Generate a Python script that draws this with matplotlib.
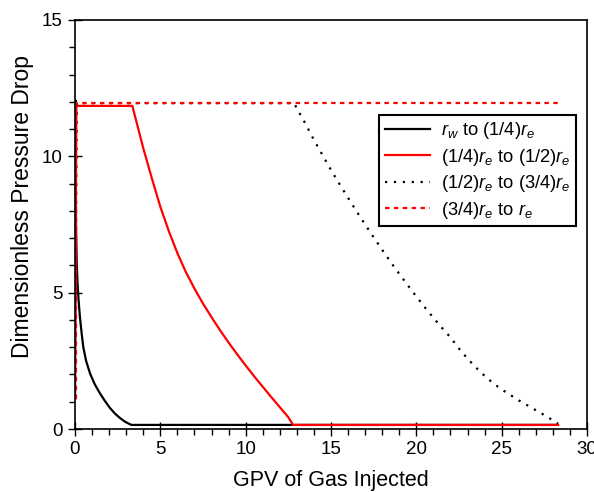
import matplotlib
matplotlib.use("Agg")
import matplotlib.pyplot as plt
from matplotlib.ticker import MultipleLocator

plt.rcParams["font.family"] = ["Liberation Sans", "DejaVu Sans"]
plt.rcParams["mathtext.fontset"] = "custom"
plt.rcParams["mathtext.rm"] = "Liberation Sans"
plt.rcParams["mathtext.it"] = "Liberation Sans:italic"

# r_w to (1/4) r_e
seg1_x = [0, 0.03, 0.06, 0.1, 0.15, 0.2, 0.29, 0.4, 0.49, 0.65, 0.88, 1.15,
          1.46, 1.75, 2.05, 2.35, 2.64, 2.95, 3.3, 28.3]
seg1_p = [1.1, 12.05, 7.5, 6.1, 5.35, 4.8, 4.09, 3.45, 2.99, 2.5, 2.04, 1.65,
          1.31, 1.03, 0.77, 0.56, 0.40, 0.26, 0.15, 0.15]

# (1/4) r_e to (1/2) r_e
seg2_x = [0, 0.08, 3.36, 4.0, 4.5, 5.0, 5.5, 6.0, 6.5, 7.0, 7.5, 8.0, 8.5,
          9.0, 9.5, 10.0, 10.5, 11.0, 11.5, 12.0, 12.5, 12.78, 28.3]
seg2_p = [1.1, 11.85, 11.85, 10.3, 9.2, 8.15, 7.25, 6.45, 5.75, 5.15, 4.6,
          4.1, 3.62, 3.17, 2.74, 2.33, 1.93, 1.55, 1.17, 0.8, 0.43, 0.15, 0.15]

# (1/2) r_e to (3/4) r_e
seg3_x = [0, 0.1, 12.83, 13.5, 14.0, 14.5, 15.0, 15.5, 16.0, 16.5, 17.0,
          17.5, 18.0, 18.5, 19.0, 19.5, 20.0, 20.5, 21.0, 21.5, 22.0, 22.5,
          23.0, 23.5, 24.0, 24.5, 25.0, 25.5, 26.0, 26.5, 27.0, 27.5, 28.0,
          28.3]
seg3_p = [1.1, 11.95, 11.95, 11.2, 10.6, 10.05, 9.5, 8.98, 8.48, 7.98, 7.5,
          7.03, 6.57, 6.12, 5.69, 5.27, 4.86, 4.46, 4.08, 3.71, 3.36, 2.95,
          2.58, 2.25, 1.95, 1.68, 1.45, 1.25, 1.05, 0.87, 0.69, 0.51, 0.32,
          0.2]

# (3/4) r_e to r_e
seg4_x = [0.08, 0.08, 28.3]
seg4_p = [1.1, 11.95, 11.95]

labels = [
    r"$r_w$ to (1/4)$r_e$",
    r"(1/4)$r_e$ to (1/2)$r_e$",
    r"(1/2)$r_e$ to (3/4)$r_e$",
    r"(3/4)$r_e$ to $r_e$",
]

fig = plt.figure(figsize=(5.94, 4.92), dpi=100)
ax = fig.add_axes([75 / 594, 1 - 429 / 492, 512 / 594, 409 / 492])

ax.plot(seg1_x, seg1_p, color="black", lw=1.6, label=labels[0])
ax.plot(seg2_x, seg2_p, color="red", lw=1.6, label=labels[1])
ax.plot(seg3_x, seg3_p, color="black", lw=1.6, ls=(0, (1, 3)), label=labels[2])
ax.plot(seg4_x, seg4_p, color="red", lw=1.6, ls=(0, (2, 2)), label=labels[3])

ax.set_xlim(0, 30)
ax.set_ylim(0, 15)
ax.xaxis.set_major_locator(MultipleLocator(5))
ax.xaxis.set_minor_locator(MultipleLocator(1))
ax.yaxis.set_major_locator(MultipleLocator(5))
ax.yaxis.set_minor_locator(MultipleLocator(1))
ax.tick_params(which="major", direction="inout", length=10, width=1,
               labelsize=13.5, top=False, right=False, pad=4)
ax.tick_params(which="minor", direction="out", length=4, width=1,
               top=False, right=False)
for s in ax.spines.values():
    s.set_linewidth(1.2)

ax.set_xlabel("GPV of Gas Injected", fontsize=15.5, labelpad=8)
ax.set_ylabel("Dimensionless Pressure Drop", fontsize=16.5)
ax.yaxis.set_label_coords(-0.08, 0.545)

leg = ax.legend(loc="upper left", bbox_to_anchor=(0.594, 0.768),
                borderaxespad=0, fontsize=13.2, frameon=True, fancybox=False,
                framealpha=1, edgecolor="black", handlelength=2.5,
                labelspacing=0.3, handletextpad=0.55, borderpad=0.3)
leg.get_frame().set_linewidth(1.5)

fig.savefig("out.png", dpi=100)
